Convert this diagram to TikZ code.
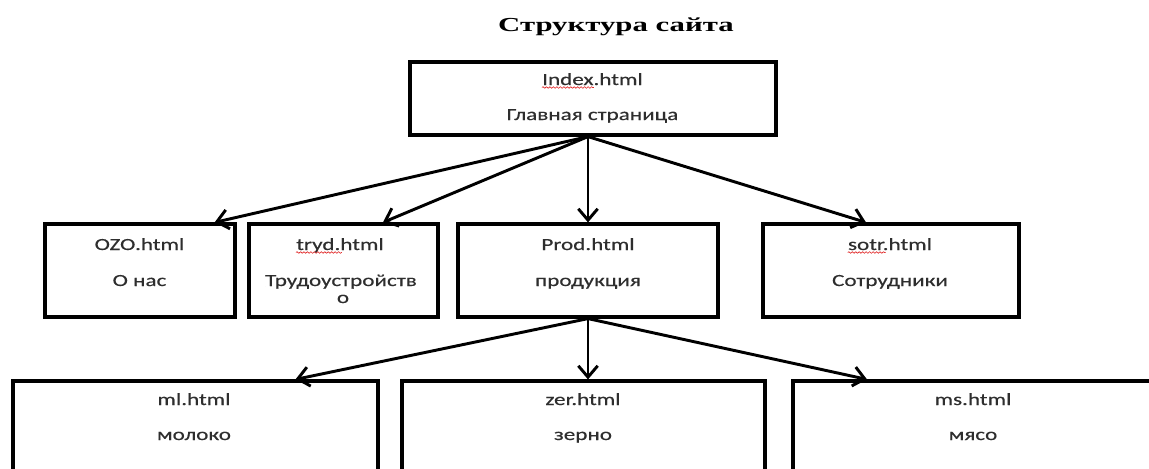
\documentclass[tikz,border=0pt]{standalone}
\usepackage{fontspec}
\newfontfamily\bodyfont{Carlito}[FakeStretch=1.36, FakeBold=0.4]
\newfontfamily\headfont{Liberation Serif}[FakeStretch=1.55]
\usetikzlibrary{arrows.meta,calc,decorations.pathmorphing}
\definecolor{ink}{HTML}{2E2E2E}
\definecolor{spell}{HTML}{E02020}
\tikzset{
  page/.style={draw=black, line width=2.4pt, fill=white, inner sep=0pt},
  toprow/.style={page, minimum height=54.75pt},
  midrow/.style={page, minimum height=69.75pt},
  lowrow/.style={page, minimum height=90pt},
  label/.style={anchor=base, inner sep=0pt, text=ink,
    font=\bodyfont\fontsize{12.75pt}{15pt}\selectfont},
  heading/.style={anchor=base, inner sep=0pt, text=black,
    font=\headfont\bfseries\fontsize{14.9pt}{17pt}\selectfont},
  link/.style={draw=black, line width=2.2pt,
    -{Straight Barb[length=8.5pt,width=14.5pt]}},
  squiggle/.style={draw=spell, line width=0.45pt,
    decorate, decoration={snake, amplitude=0.6pt, segment length=2.6pt}}
}
\begin{document}
\begin{tikzpicture}[x=0.75pt, y=-0.75pt]
  \useasboundingbox (0,0) rectangle (1149,468);
  \clip (0,0) rectangle (1149,468);
  \fill[white] (0,0) rectangle (1149,468);

  % heading
  \node[heading] (title) at (616,31) {Структура сайта};

  % pages
  \node[toprow, minimum width=274.5pt]  (index) at (593,98.5) {};
  \node[midrow, minimum width=142.5pt]  (ozo)   at (140,270.5) {};
  \node[midrow, minimum width=141.75pt] (tryd)  at (343.5,270.5) {};
  \node[midrow, minimum width=195pt]    (prod)  at (588,270.5) {};
  \node[midrow, minimum width=192pt]    (sotr)  at (891,270.5) {};
  \node[lowrow, minimum width=273.75pt] (ml)    at (195.5,441) {};
  \node[lowrow, minimum width=272.25pt] (zer)   at (583.5,441) {};
  \node[lowrow, minimum width=270pt]    (ms)    at (973,441) {};

  % page captions
  \node[label] (indexA) at (592.5,85) {Index.html};
  \node[label] (indexB) at (592.5,120) {Главная страница};
  \node[label] (ozoA)   at (139.5,250) {OZO.html};
  \node[label] (ozoB)   at (139.5,286) {О нас};
  \node[label] (trydA)  at (340,250) {tryd.html};
  \node[label] (trydB)  at (341,286) {Трудоустройств};
  \node[label] (trydC)  at (343,303) {о};
  \node[label] (prodA)  at (588,250) {Prod.html};
  \node[label] (prodB)  at (588,286) {продукция};
  \node[label] (sotrA)  at (890,250) {sotr.html};
  \node[label] (sotrB)  at (890,286) {Сотрудники};
  \node[label] (mlA)    at (194,405) {ml.html};
  \node[label] (mlB)    at (194,440) {молоко};
  \node[label] (zerA)   at (583,405) {zer.html};
  \node[label] (zerB)   at (583,440) {зерно};
  \node[label] (msA)    at (973,405) {ms.html};
  \node[label] (msB)    at (973,440) {мясо};

  % spell-check marks
  \draw[squiggle] ($(indexA.base west)+(0,2.5)$) -- ++(52,0);
  \draw[squiggle] ($(trydA.base west)+(0,2.5)$) -- ++(46,0);
  \draw[squiggle] ($(sotrA.base west)+(0,2.5)$) -- ++(38,0);

  % links from the main page
  \coordinate (hub) at ($(index.south)+(-5,0)$);
  \draw[link] (hub) -- ($(ozo.north east)+(-22,0)$);
  \draw[link] (hub) -- ($(tryd.north)+(39.5,0)$);
  \draw[link] (hub) -- (hub |- prod.north);
  \draw[link] (hub) -- ($(sotr.north)+(-25,0)$);

  % links from the products page
  \draw[link] (prod.south) -- ($(ml.north)+(100,0)$);
  \draw[link] (prod.south) -- (prod.south |- zer.north);
  \draw[link] (prod.south) -- ($(ms.north)+(-106,0)$);
\end{tikzpicture}
\end{document}
